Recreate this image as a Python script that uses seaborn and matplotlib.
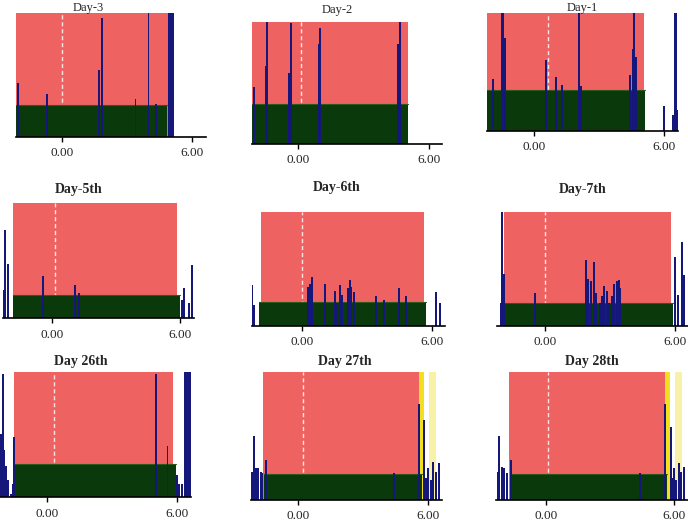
import matplotlib
matplotlib.use("Agg")
import matplotlib.pyplot as plt
import seaborn as sns

sns.set_style("white")
plt.rcParams["font.family"] = ["Liberation Serif", "DejaVu Serif"]

titles = ["Day-3", "Day-2", "Day-1",
          "Day-5th", "Day-6th", "Day-7th",
          "Day 26th", "Day 27th", "Day 28th"]

# sleep window (red) and rest band (green), hours
sleep_start = [-2.15, -2.14, -2.17, -1.82, -1.92, -1.89, -1.50, -1.62, -1.73]
sleep_end = [4.86, 5.02, 5.08, 5.83, 5.62, 5.81, 5.84, 5.62, 5.56]
rest_start = [-2.15, -2.14, -2.17, -1.82, -1.98, -1.85, -1.52, -1.58, -1.70]
rest_end = [4.82, 5.02, 5.12, 5.99, 5.72, 5.91, 5.95, 5.75, 5.68]
rest_level = [0.26, 0.33, 0.35, 0.20, 0.21, 0.20, 0.27, 0.20, 0.20]
lights_off = [0.0, 0.10, 0.65, 0.15, 0.0, 0.0, 0.35, 0.23, 0.10]

# activity spikes
act_x_day3 = [-2.03, -0.71, 1.69, 1.82, 3.38, 3.98, 4.32]
act_h_day3 = [0.44, 0.35, 0.54, 0.96, 0.31, 1.0, 0.27]
act_x_day2 = [-2.04, -1.50, -1.44, -0.41, -0.35, 0.95, 1.01, 4.59, 4.66]
act_h_day2 = [0.47, 0.64, 1.0, 0.58, 0.99, 0.82, 0.95, 0.82, 1.0]
act_x_day1 = [-1.89, -1.51, -1.43, -1.34, 0.54, 1.00, 1.29, 2.06, 2.17,
              4.42, 4.54, 4.60, 4.69, 6.00, 6.38, 6.57]
act_h_day1 = [0.44, 1.0, 1.0, 0.79, 0.60, 0.46, 0.39, 1.0, 0.38,
              0.48, 0.70, 1.0, 0.63, 0.21, 0.14, 0.18]
act_x_day5 = [-2.25, -2.18, -2.02, -0.39, 1.09, 1.28, 6.08, 6.19, 6.42, 6.56]
act_h_day5 = [0.25, 0.77, 0.47, 0.37, 0.29, 0.22, 0.16, 0.26, 0.13, 0.46]
act_x_day6 = [-2.30, -2.22, 0.28, 0.35, 0.43, 1.04, 1.50, 1.61, 1.73, 1.84,
              2.12, 2.19, 2.27, 2.38, 3.39, 3.76, 4.46, 4.77, 6.15, 6.33]
act_h_day6 = [0.36, 0.18, 0.34, 0.37, 0.43, 0.37, 0.31, 0.20, 0.36, 0.27,
              0.33, 0.40, 0.34, 0.30, 0.26, 0.23, 0.33, 0.26, 0.30, 0.20]
act_x_day7 = [-2.05, -1.97, -1.88, -0.46, 1.88, 2.00, 2.12, 2.28, 2.35, 2.54,
              2.65, 2.74, 2.85, 2.95, 3.08, 3.20, 3.31, 3.40, 3.48,
              6.02, 6.12, 6.31, 6.43]
act_h_day7 = [0.20, 1.0, 0.46, 0.29, 0.58, 0.41, 0.39, 0.56, 0.29, 0.20,
              0.26, 0.35, 0.31, 0.20, 0.26, 0.37, 0.39, 0.40, 0.33,
              0.61, 0.27, 0.74, 0.45]
act_x_day26 = [-2.11, -2.03, -1.97, -1.88, -1.77, -1.65, -1.57, -1.51,
               5.03, 5.57, 6.00, 6.11, 6.23]
act_h_day26 = [0.51, 0.99, 0.38, 0.25, 0.14, 0.03, 0.11, 0.48,
               0.99, 0.41, 0.18, 0.11, 0.11]
act_x_day27 = [-2.15, -2.05, -1.95, -1.85, -1.74, -1.66, -1.51, 4.43,
               5.58, 5.85, 5.92, 6.03, 6.15, 6.26, 6.38, 6.51]
act_h_day27 = [0.22, 0.50, 0.25, 0.25, 0.22, 0.21, 0.31, 0.21,
               0.75, 0.63, 0.17, 0.25, 0.16, 0.30, 0.22, 0.29]
act_x_day28 = [-2.27, -2.20, -2.07, -1.96, -1.84, -1.65, 4.39,
               5.55, 5.83, 5.92, 6.00, 6.10, 6.21, 6.31, 6.45]
act_h_day28 = [0.22, 0.50, 0.26, 0.25, 0.21, 0.31, 0.21,
               0.75, 0.57, 0.17, 0.25, 0.16, 0.29, 0.22, 0.26]

act_x = [act_x_day3, act_x_day2, act_x_day1, act_x_day5, act_x_day6,
         act_x_day7, act_x_day26, act_x_day27, act_x_day28]
act_h = [act_h_day3, act_h_day2, act_h_day1, act_h_day5, act_h_day6,
         act_h_day7, act_h_day26, act_h_day27, act_h_day28]

# full-height activity blocks (panel index, start, end)
blocks = [(0, 4.86, 5.15), (2, 6.42, 6.56), (6, 6.35, 6.65)]
# wake markers (panel index, start, end, strong)
wake_marks = [(7, 5.62, 5.85, True), (7, 6.08, 6.38, False),
              (8, 5.56, 5.79, True), (8, 6.03, 6.34, False)]

# axis layout in pixels: left, top, right, bottom ; and x ranges
W, H = 688, 521
boxes = [(15.7, 13.3, 205.7, 137), (251.7, 21.7, 442.3, 144), (487.3, 13.3, 678.3, 131),
         (3, 203.3, 194.3, 318.3), (251.7, 212.3, 445, 325.7), (496.7, 212.3, 688, 325.7),
         (0, 372.3, 190.7, 497.3), (250.7, 372.3, 441.7, 500), (496, 372.3, 688, 500)]
xlims = [(-2.15, 6.62), (-2.14, 6.60), (-2.17, 6.64),
         (-2.27, 6.65), (-2.33, 6.58), (-2.23, 6.60),
         (-2.15, 6.64), (-2.20, 6.65), (-2.34, 6.64)]
title_pos = [(88, 7.5), (337, 10), (582, 7.5),
             (79, 190), (337, 188), (583, 189),
             (81, 362), (345, 362), (592, 362)]

red = "#ee6262"
green = "#0a3a0b"
blue = "#15187a"

fig = plt.figure(figsize=(6.88, 5.21), dpi=100)

for i in range(9):
    l, t, r, b = boxes[i]
    ax = fig.add_axes([l / W, 1 - b / H, (r - l) / W, (b - t) / H])
    ax.set_facecolor("white")
    ax.axvspan(sleep_start[i], sleep_end[i], color=red, lw=0, zorder=0)
    ax.axvline(lights_off[i], color="#fbe3e3", lw=1, ls=(0, (3, 2)), zorder=1)
    ax.fill_between([rest_start[i], rest_end[i]], 0, rest_level[i],
                    color=green, lw=0, zorder=2)
    ax.plot([rest_start[i], rest_end[i]], [rest_level[i]] * 2,
            color="#2d5a1c", lw=0.8, zorder=2)
    for k, s, e, strong in wake_marks:
        if k == i:
            ax.axvspan(s, e, color="#f3df1e" if strong else "#f7f2a8",
                       lw=0, zorder=1)
    ax.bar(act_x[i], act_h[i], width=0.09, color=blue, lw=0, zorder=3)
    for k, s, e in blocks:
        if k == i:
            ax.axvspan(s, e, color=blue, lw=0, zorder=3)

    ax.set_xlim(*xlims[i])
    ax.set_ylim(0, 1)
    ax.set_yticks([])
    ax.set_xticks([0, 6])
    ax.set_xticklabels(["0.00", "6.00"], fontsize=9.5)
    ax.tick_params(axis="x", bottom=True, direction="out", length=3.5,
                   width=1, color="black", pad=4)
    for side in ["left", "top", "right"]:
        ax.spines[side].set_visible(False)
    ax.spines["bottom"].set_color("black")
    ax.spines["bottom"].set_linewidth(1.2)
    ax.spines["bottom"].set_zorder(4)

    tx, ty = title_pos[i]
    fig.text(tx / W, 1 - ty / H, titles[i], ha="center", va="center",
             fontsize=9 if i < 3 else 10,
             fontweight="normal" if i < 3 else "bold")

fig.savefig("out.png", dpi=100)
